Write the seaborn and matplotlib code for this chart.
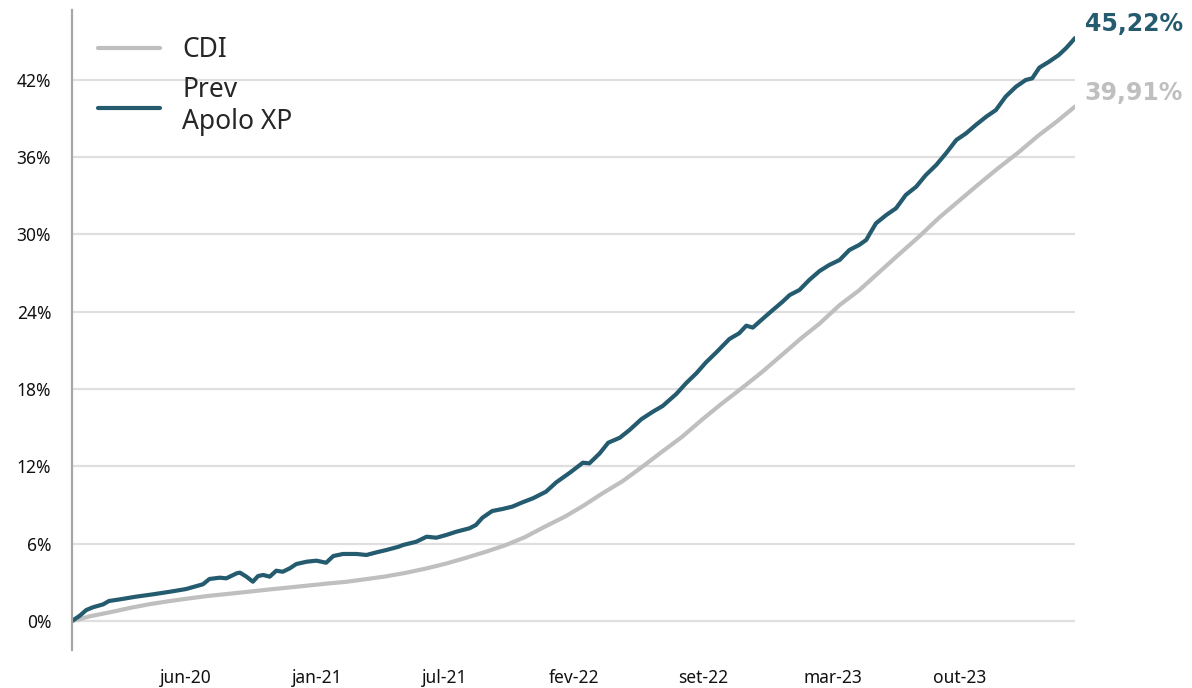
import numpy as np
import pandas as pd
import matplotlib
matplotlib.use("Agg")
import matplotlib.pyplot as plt
import seaborn as sns

# ---------------- data ----------------
cdi_dates = (["2020-01-02"]
             + [d.strftime("%Y-%m-%d") for d in pd.date_range("2020-01-31", "2024-02-29", freq="ME")]
             + ["2024-03-28"])
cdi_values = [0.00,
              0.38, 0.67, 1.01, 1.30, 1.54, 1.75, 1.95, 2.11, 2.27, 2.44, 2.59, 2.75,
              2.91, 3.04, 3.25, 3.46, 3.74, 4.06, 4.44, 4.89, 5.35, 5.87, 6.49, 7.31,
              8.09, 8.92, 9.93, 10.84, 11.98, 13.13, 14.29, 15.63, 16.86, 18.06, 19.26, 20.60,
              21.95, 23.07, 24.51, 25.65, 27.06, 28.42, 29.80, 31.27, 32.55, 33.87, 35.11, 36.32,
              37.64, 38.75, 39.91]

apolo_dates = [
    "2020-01-02", "2020-01-14", "2020-01-24", "2020-02-03", "2020-02-19", "2020-02-28",
    "2020-03-16", "2020-04-10", "2020-05-06", "2020-06-01", "2020-06-26", "2020-07-22",
    "2020-08-01", "2020-08-17", "2020-08-27", "2020-09-12", "2020-09-17", "2020-09-27",
    "2020-10-07", "2020-10-15", "2020-10-23", "2020-11-02", "2020-11-12", "2020-11-22",
    "2020-12-03", "2020-12-13", "2020-12-29", "2021-01-13", "2021-01-28", "2021-02-08",
    "2021-02-23", "2021-03-16", "2021-03-31", "2021-04-16", "2021-05-01", "2021-05-19",
    "2021-05-27", "2021-06-16", "2021-07-02", "2021-07-17", "2021-08-01", "2021-08-17",
    "2021-09-06", "2021-09-16", "2021-09-26", "2021-10-11", "2021-10-27", "2021-11-11",
    "2021-11-27", "2021-12-13", "2022-01-02", "2022-01-18", "2022-02-08", "2022-02-28",
    "2022-03-10", "2022-03-26", "2022-04-08", "2022-04-26", "2022-05-11", "2022-05-29",
    "2022-06-16", "2022-07-01", "2022-07-22", "2022-08-06", "2022-08-22", "2022-09-06",
    "2022-09-22", "2022-10-12", "2022-10-27", "2022-11-07", "2022-11-17", "2022-12-02",
    "2022-12-18", "2023-01-02", "2023-01-13", "2023-01-28", "2023-02-12", "2023-02-28",
    "2023-03-15", "2023-03-31", "2023-04-15", "2023-04-30", "2023-05-11", "2023-05-16",
    "2023-05-26", "2023-06-11", "2023-06-26", "2023-07-11", "2023-07-27", "2023-08-11",
    "2023-08-27", "2023-09-11", "2023-09-27", "2023-10-12", "2023-10-27", "2023-11-12",
    "2023-11-27", "2023-12-12", "2023-12-28", "2024-01-12", "2024-01-22", "2024-02-02",
    "2024-02-17", "2024-03-03", "2024-03-14", "2024-03-21", "2024-03-28"]
apolo_values = [
    0.00, 0.41, 0.85, 1.06, 1.29, 1.55,
    1.68, 1.89, 2.07, 2.27, 2.48, 2.85,
    3.26, 3.36, 3.31, 3.70, 3.75, 3.44,
    3.05, 3.49, 3.57, 3.44, 3.90, 3.82,
    4.09, 4.42, 4.60, 4.68, 4.52, 5.04,
    5.20, 5.20, 5.12, 5.33, 5.51, 5.75,
    5.90, 6.15, 6.54, 6.46, 6.67, 6.93,
    7.19, 7.45, 8.01, 8.53, 8.69, 8.87,
    9.21, 9.52, 10.03, 10.76, 11.51, 12.28,
    12.23, 13.01, 13.83, 14.22, 14.82, 15.65,
    16.24, 16.68, 17.61, 18.44, 19.22, 20.07,
    20.85, 21.88, 22.32, 22.91, 22.76, 23.43,
    24.13, 24.77, 25.29, 25.68, 26.45, 27.15,
    27.62, 28.01, 28.78, 29.17, 29.56, 30.00,
    30.85, 31.50, 32.02, 33.05, 33.69, 34.60,
    35.38, 36.28, 37.32, 37.83, 38.48, 39.12,
    39.64, 40.68, 41.45, 41.97, 42.10, 42.93,
    43.39, 43.91, 44.43, 44.82, 45.22]

series_names = ["CDI", "Prev\nApolo XP"]
end_labels = ["39,91%", "45,22%"]

tick_dates = ["2020-06-26", "2021-01-14", "2021-07-30", "2022-02-15",
              "2022-09-01", "2023-03-21", "2023-10-02"]
tick_labels = ["jun-20", "jan-21", "jul-21", "fev-22", "set-22", "mar-23", "out-23"]
y_ticks = [0, 6, 12, 18, 24, 30, 36, 42]

# ---------------- style ----------------
sns.set_theme(style="white")
plt.rcParams["font.family"] = ["Noto Sans", "DejaVu Sans"]

c_cdi = "#BFBFBF"
c_apolo = "#245B6F"

cdi_df = pd.DataFrame({"date": pd.to_datetime(cdi_dates), "value": cdi_values})
apolo_df = pd.DataFrame({"date": pd.to_datetime(apolo_dates), "value": apolo_values})

fig = plt.figure(figsize=(11.92, 6.88), dpi=100)
ax = fig.add_axes([72 / 1192, 38 / 688, 1003 / 1192, 640 / 688])

sns.lineplot(data=cdi_df, x="date", y="value", ax=ax, color=c_cdi, lw=3.0,
             label=series_names[0])
sns.lineplot(data=apolo_df, x="date", y="value", ax=ax, color=c_apolo, lw=3.0,
             label=series_names[1])

ax.set_xlim(pd.Timestamp(cdi_dates[0]), pd.Timestamp(cdi_dates[-1]))
ax.set_ylim(-2.25, 47.4)

ax.set_yticks(y_ticks)
ax.set_yticklabels([f"{v}%" for v in y_ticks])
ax.set_xticks(pd.to_datetime(tick_dates))
ax.set_xticklabels(tick_labels)
ax.tick_params(axis="both", length=0, labelsize=12.5, colors="#111111")
ax.tick_params(axis="x", pad=14)
ax.tick_params(axis="y", pad=15)
ax.set_xlabel("")
ax.set_ylabel("")

ax.yaxis.grid(True, color="#DFDFDF", lw=1.6)
ax.xaxis.grid(False)
ax.set_axisbelow(True)
for s in ["top", "right", "bottom"]:
    ax.spines[s].set_visible(False)
ax.spines["left"].set_color("#A6A6A6")
ax.spines["left"].set_linewidth(1.6)

# end labels
for df, lab, col in [(cdi_df, end_labels[0], c_cdi), (apolo_df, end_labels[1], c_apolo)]:
    ax.annotate(lab, xy=(df["date"].iloc[-1], df["value"].iloc[-1]),
                xytext=(7, 10), textcoords="offset points", ha="left", va="center",
                fontsize=17, fontweight="bold", color=col, family="DejaVu Sans",
                annotation_clip=False)

leg = ax.legend(loc="upper left", bbox_to_anchor=(0.002, 0.996), frameon=False,
                fontsize=19, handlelength=2.35, handletextpad=0.85,
                labelspacing=0.45, borderaxespad=0.0, borderpad=0.9)
for line in leg.get_lines():
    line.set_linewidth(3.0)

fig.savefig("out.png", dpi=100)
